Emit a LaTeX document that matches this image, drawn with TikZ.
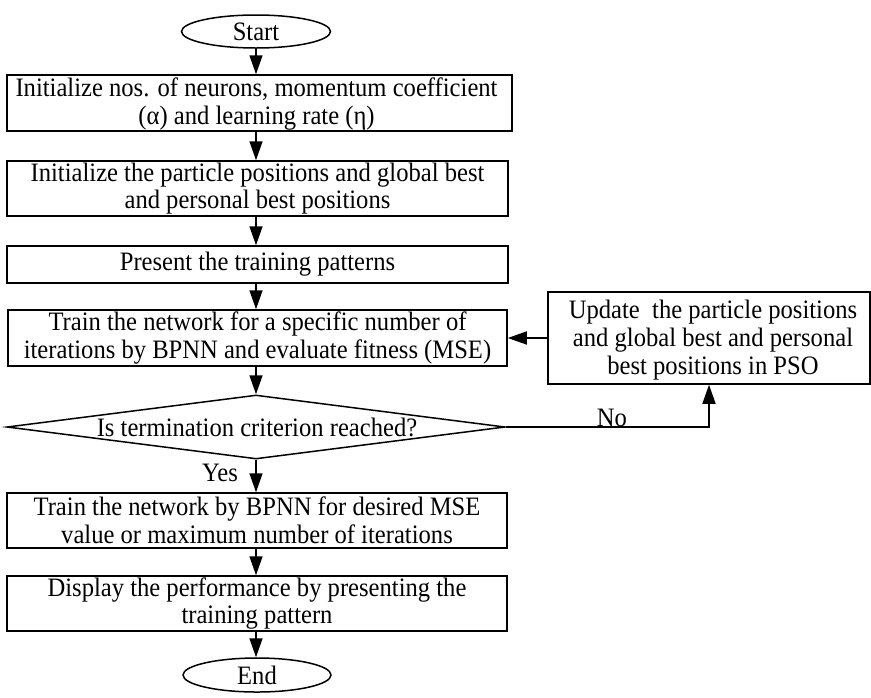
\documentclass[tikz,border=0pt]{standalone}
\usepackage{fontspec}
\setmainfont{Liberation Serif}[FakeStretch=0.925]
\usetikzlibrary{arrows.meta,shapes.geometric}

\begin{document}
\begin{tikzpicture}[x=0.5pt,y=-0.5pt,
  every node/.style={font=\fontsize{13.3pt}{13.9pt}\selectfont, inner sep=0pt, align=center},
  box/.style={draw, rectangle, line width=0.75pt},
  term/.style={draw, ellipse, line width=0.75pt},
  decision/.style={draw, diamond, line width=0.75pt},
  flow/.style={-{Triangle[length=9.5pt,width=6.5pt]}, line width=0.75pt},
  lbl/.style={anchor=center}
]
\useasboundingbox (0,0) rectangle (871,697);

% terminals
\node[term, minimum width=74.5pt, minimum height=16.5pt] (start) at (256,31.5) {Start};
\node[term, minimum width=74pt, minimum height=17pt] (end) at (257,675) {End};

% process boxes
\node[box, minimum width=252.5pt, minimum height=28pt] (b1) at (259.5,103) {};
\node (b1txt) at (256.5,104)
  {Initialize nos. of neurons, momentum coefficient\\ (α) and learning rate (η)};
\node[box, minimum width=250.5pt, minimum height=27.5pt] (b2) at (257.5,188.5)
  {Initialize the particle positions and global best\\ and personal best positions};
\node[box, minimum width=250.5pt, minimum height=18.5pt] (b3) at (257.5,264.5)
  {Present the training patterns};
\node[box, minimum width=249.5pt, minimum height=28pt] (b4) at (257.5,338)
  {Train the network for a specific number of\\ iterations by BPNN and evaluate fitness (MSE)};
\node[box, minimum width=161pt, minimum height=46pt] (upd) at (709,338) {};
\node (updtxt) at (713,340)
  {Update\ \ the particle positions\\ and global best and personal\\ best positions in PSO};
\node[box, minimum width=250pt, minimum height=27.5pt] (b5) at (257,520.5)
  {Train the network by BPNN for desired MSE\\ value or maximum number of iterations};
\node[box, minimum width=250pt, minimum height=27.5pt] (b6) at (257,603.5)
  {Display the performance by presenting the\\ training pattern};

% decision
\node[decision, minimum width=249pt, minimum height=32pt] (dec) at (256,427) {};
\node (dectxt) at (257,427) {Is termination criterion reached?};

% connectors
\draw[flow] (start.south) -- (start.south |- b1.north);
\draw[flow] (start.south |- b1.south) -- (start.south |- b2.north);
\draw[flow] (start.south |- b2.south) -- (start.south |- b3.north);
\draw[flow] (start.south |- b3.south) -- (start.south |- b4.north);
\draw[flow] (start.south |- b4.south) -- (dec.north);
\draw[flow] (dec.south) -- (dec.south |- b5.north);
\draw[flow] (dec.south |- b5.south) -- (dec.south |- b6.north);
\draw[flow] (dec.south |- b6.south) -- (dec.south |- end.north);
\draw[flow] (dec.east) -| (upd.south);
\draw[flow] (upd.west) -- (upd.west -| b4.east);

% branch labels
\node[lbl] (no) at (612,418) {No};
\node[lbl] (yes) at (220,473) {Yes};
\end{tikzpicture}
\end{document}
